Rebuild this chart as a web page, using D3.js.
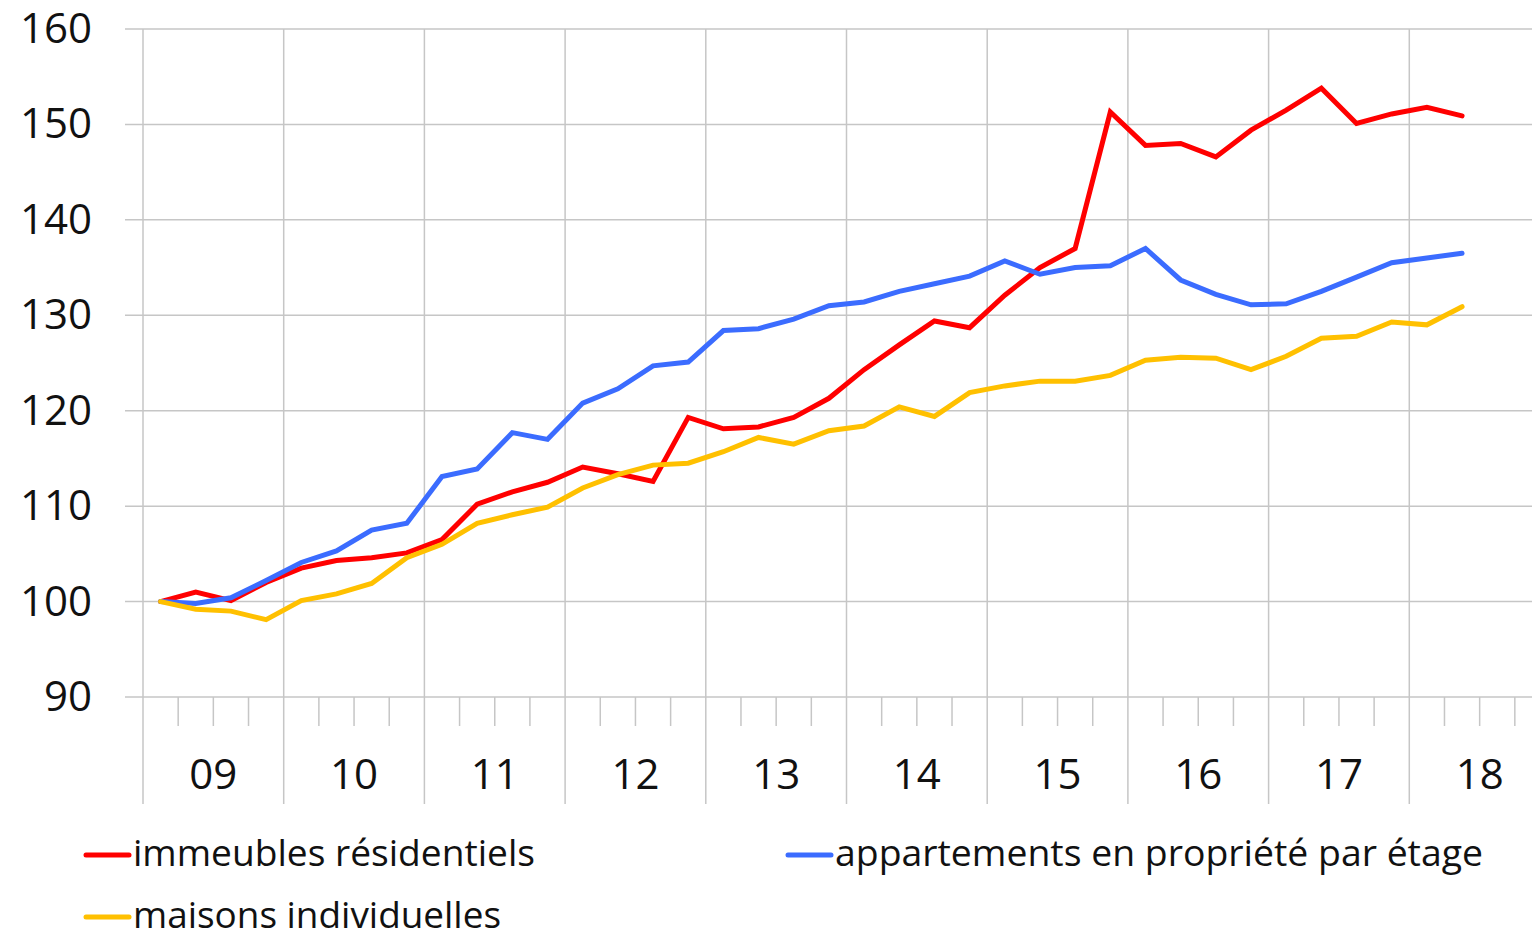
<!DOCTYPE html>
<html>
<head>
<meta charset="utf-8">
<script src="https://cdn.jsdelivr.net/npm/d3@7"></script>
<style>
  html, body { margin: 0; padding: 0; background: #fff; }
  svg { display: block; }
  text { font-family: "Open Sans", "Noto Sans", sans-serif; fill: #111; }
</style>
</head>
<body>
<svg id="chart" width="1532" height="934"></svg>
<script>
// Quarterly price indices, 2009 Q1 = 100
const quarters = [
  "2009Q1","2009Q2","2009Q3","2009Q4","2010Q1","2010Q2","2010Q3","2010Q4",
  "2011Q1","2011Q2","2011Q3","2011Q4","2012Q1","2012Q2","2012Q3","2012Q4",
  "2013Q1","2013Q2","2013Q3","2013Q4","2014Q1","2014Q2","2014Q3","2014Q4",
  "2015Q1","2015Q2","2015Q3","2015Q4","2016Q1","2016Q2","2016Q3","2016Q4",
  "2017Q1","2017Q2","2017Q3","2017Q4","2018Q1","2018Q2"
];

const immeublesResidentiels = [
  100.0, 101.0, 100.1, 102.0, 103.5, 104.3, 104.6, 105.1,
  106.5, 110.2, 111.5, 112.5, 114.1, 113.4, 112.6, 119.3,
  118.1, 118.3, 119.3, 121.3, 124.3, 126.9, 129.4, 128.7,
  132.1, 135.0, 137.0, 151.3, 147.8, 148.0, 146.6, 149.4,
  151.5, 153.8, 150.1, 151.1, 151.8, 150.9
];

const appartementsPPE = [
  100.0, 99.8, 100.4, 102.2, 104.1, 105.3, 107.5, 108.2,
  113.1, 113.9, 117.7, 117.0, 120.8, 122.3, 124.7, 125.1,
  128.4, 128.6, 129.6, 131.0, 131.4, 132.5, 133.3, 134.1,
  135.7, 134.3, 135.0, 135.2, 137.0, 133.7, 132.2, 131.1,
  131.2, 132.5, 134.0, 135.5, 136.0, 136.5
];

const maisonsIndividuelles = [
  100.0, 99.2, 99.0, 98.1, 100.1, 100.8, 101.9, 104.6,
  106.0, 108.2, 109.1, 109.9, 111.9, 113.3, 114.3, 114.5,
  115.7, 117.2, 116.5, 117.9, 118.4, 120.4, 119.4, 121.9,
  122.6, 123.1, 123.1, 123.7, 125.3, 125.6, 125.5, 124.3,
  125.7, 127.6, 127.8, 129.3, 129.0, 130.9
];

const yearLabels = ["09","10","11","12","13","14","15","16","17","18"];
const yTicks = [90, 100, 110, 120, 130, 140, 150, 160];

const seriesNames = [
  "immeubles résidentiels",
  "appartements en propriété par étage",
  "maisons individuelles"
];
const seriesColors = ["#ff0000", "#3b6cff", "#ffc000"];
const seriesValues = [immeublesResidentiels, appartementsPPE, maisonsIndividuelles];

const svg = d3.select("#chart");
const gridColor = "#c6c6c6";

// x position measured in years; each quarter sits at the middle of its slot
const x = d3.scaleLinear().domain([2009, 2019]).range([143, 1550]);
const y = d3.scaleLinear().domain([90, 160]).range([697, 29]);

const quarterPos = q => {
  const yr = +q.slice(0, 4), n = +q.slice(5);
  return yr + (n - 0.5) / 4;
};

// horizontal gridlines
svg.append("g")
  .selectAll("line")
  .data(yTicks)
  .join("line")
  .attr("x1", 125).attr("x2", 1532)
  .attr("y1", d => y(d)).attr("y2", d => y(d))
  .attr("stroke", gridColor).attr("stroke-width", 1.5);

// year separators running through the plot and label band
const yearBounds = d3.range(2009, 2020);
svg.append("g")
  .selectAll("line")
  .data(yearBounds)
  .join("line")
  .attr("x1", d => x(d)).attr("x2", d => x(d))
  .attr("y1", y(160)).attr("y2", 804)
  .attr("stroke", gridColor).attr("stroke-width", 1.5);

// quarter tick marks under the axis
const quarterBounds = d3.range(2009, 2019.01, 0.25).filter(v => Math.abs(v - Math.round(v)) > 0.01);
svg.append("g")
  .selectAll("line")
  .data(quarterBounds)
  .join("line")
  .attr("x1", d => x(d)).attr("x2", d => x(d))
  .attr("y1", y(90)).attr("y2", 726)
  .attr("stroke", gridColor).attr("stroke-width", 1.5);

// y axis labels
svg.append("g")
  .selectAll("text")
  .data(yTicks)
  .join("text")
  .attr("x", 92)
  .attr("y", d => y(d) + 14)
  .attr("text-anchor", "end")
  .attr("font-size", 42)
  .text(d => d);

// year labels
svg.append("g")
  .selectAll("text")
  .data(yearLabels)
  .join("text")
  .attr("x", (d, i) => x(2009 + i + 0.5))
  .attr("y", 789)
  .attr("text-anchor", "middle")
  .attr("font-size", 42)
  .text(d => d);

// series lines
const line = d3.line()
  .x((d, i) => x(quarterPos(quarters[i])))
  .y(d => y(d));

svg.append("g")
  .selectAll("path")
  .data(seriesValues)
  .join("path")
  .attr("d", d => line(d))
  .attr("fill", "none")
  .attr("stroke", (d, i) => seriesColors[i])
  .attr("stroke-width", 5)
  .attr("stroke-linejoin", "miter")
  .attr("stroke-linecap", "round");

// legend
const legendItems = [
  { lx: 86, ly: 855, tw: 402 },
  { lx: 788, ly: 855, tw: 648 },
  { lx: 86, ly: 917, tw: 368 }
];
const legend = svg.append("g")
  .selectAll("g")
  .data(seriesNames)
  .join("g")
  .attr("transform", (d, i) => `translate(${legendItems[i].lx},${legendItems[i].ly})`);

legend.append("line")
  .attr("x1", 0).attr("x2", 43)
  .attr("y1", 0).attr("y2", 0)
  .attr("stroke", (d, i) => seriesColors[i])
  .attr("stroke-width", 5)
  .attr("stroke-linecap", "round");

legend.append("text")
  .attr("x", 47)
  .attr("y", 11)
  .attr("font-size", 36)
  .attr("textLength", (d, i) => legendItems[i].tw)
  .attr("lengthAdjust", "spacingAndGlyphs")
  .text(d => d);
</script>
</body>
</html>
